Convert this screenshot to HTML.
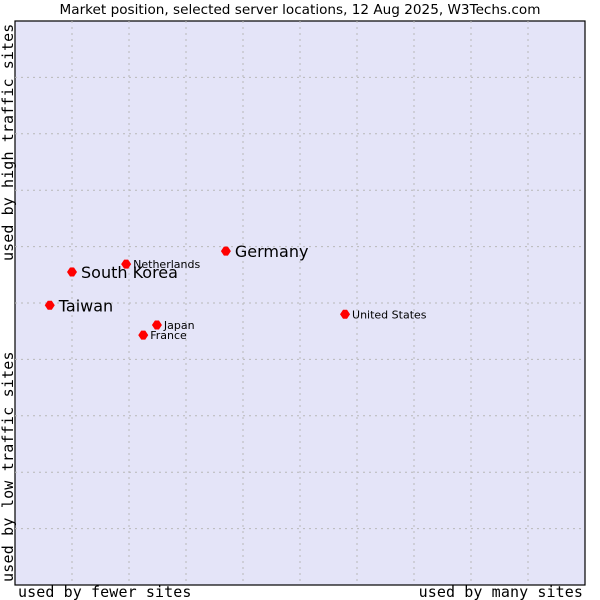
<!DOCTYPE html>
<html><head><meta charset="utf-8"><style>
body{margin:0;background:#fff;}
svg{display:block;}
</style></head><body>
<svg id="chart" width="600" height="600" xmlns="http://www.w3.org/2000/svg">
<text x="300" y="14" text-anchor="middle" font-family="DejaVu Sans, sans-serif" font-size="13.6" fill="#000">Market position, selected server locations, 12 Aug 2025, W3Techs.com</text>
<rect x="15" y="21" width="570" height="564" fill="#e4e4f8" stroke="#000" stroke-width="1.2"/>
<g id="grid"></g>
<g id="points"></g>
<text x="18" y="597" font-family="DejaVu Sans Mono, monospace" font-size="15" letter-spacing="0.1">used by fewer sites</text>
<text x="583" y="597" text-anchor="end" font-family="DejaVu Sans Mono, monospace" font-size="15" letter-spacing="0.1">used by many sites</text>
<text transform="translate(13,582) rotate(-90)" font-family="DejaVu Sans Mono, monospace" font-size="15" letter-spacing="0.2">used by low traffic sites</text>
<text transform="translate(13,261) rotate(-90)" font-family="DejaVu Sans Mono, monospace" font-size="15" letter-spacing="0.1">used by high traffic sites</text>
</svg>
<script>
const countries = ["Taiwan","South Korea","Netherlands","Germany","Japan","France","United States"];
const xValues = [6.1,10.0,19.5,37.0,24.9,22.5,57.9];
const yValues = [49.6,55.5,56.9,59.2,46.1,44.3,48.0];
const bigLabel = [true,true,false,true,false,false,false];
const NS="http://www.w3.org/2000/svg";
const X0=15,X1=585,Y0=585,Y1=21;
function sx(v){return X0+(X1-X0)*v/100;}
function sy(v){return Y0-(Y0-Y1)*v/100;}
const grid=document.getElementById('grid');
for(let i=1;i<10;i++){
  const v=document.createElementNS(NS,'line');
  v.setAttribute('x1',sx(i*10));v.setAttribute('x2',sx(i*10));v.setAttribute('y1',Y1);v.setAttribute('y2',Y0);
  v.setAttribute('stroke','#b8b8b8');v.setAttribute('stroke-dasharray','2,4');
  
  
  grid.appendChild(v);
  const h=document.createElementNS(NS,'line');
  h.setAttribute('y1',sy(i*10));h.setAttribute('y2',sy(i*10));h.setAttribute('x1',X0);h.setAttribute('x2',X1);
  h.setAttribute('stroke','#b8b8b8');h.setAttribute('stroke-dasharray','2,4');
  
  
  grid.appendChild(h);
}
const pts=document.getElementById('points');
countries.forEach((c,i)=>{
  const x=sx(xValues[i]),y=sy(yValues[i]);
  const m=document.createElementNS(NS,'path');
  m.setAttribute('d',`M${x-5},${y} L${x-2},${y-4.5} L${x+2},${y-4.5} L${x+5},${y} L${x+2},${y+4.5} L${x-2},${y+4.5}Z`);
  m.setAttribute('fill','#ff0000');
  
  
  pts.appendChild(m);
  const t=document.createElementNS(NS,'text');
  t.setAttribute('x',x+(bigLabel[i]?9:7));
  t.setAttribute('y',y+(bigLabel[i]?6:4));
  t.setAttribute('font-family','DejaVu Sans, sans-serif');
  t.setAttribute('font-size',bigLabel[i]?'16':'11');
  t.textContent=c;
  
  
  pts.appendChild(t);
});
</script>
</body></html>
